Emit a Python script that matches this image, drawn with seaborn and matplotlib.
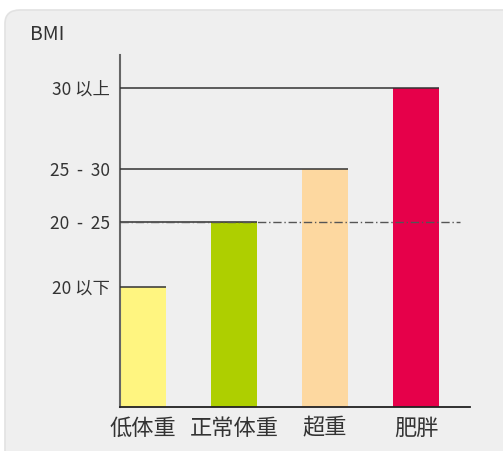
import matplotlib
matplotlib.use("Agg")
import matplotlib.pyplot as plt
from matplotlib.patches import FancyBboxPatch
import pandas as pd
import seaborn as sns

# 数据：类别、柱高（示意高度）、刻度标签
categories = ["低体重", "正常体重", "超重", "肥胖"]
heights = [1.20, 1.85, 2.38, 3.19]
tick_labels = ["20 以下", "20 - 25", "25 - 30", "30 以上"]
colors = ["#FFF580", "#AECF00", "#FDD8A0", "#E6004A"]

sns.set_style("white")
plt.rcParams["font.family"] = ["Noto Sans CJK SC", "DejaVu Sans"]

df = pd.DataFrame({"cat": categories, "h": heights})

fig = plt.figure(figsize=(5.03, 4.51), dpi=100)
fig.patch.set_facecolor("white")

# 圆角灰色背景
bg = FancyBboxPatch((5 / 503, -0.1), 1.2, 1.1 - 10 / 451,
                    boxstyle="round,pad=0,rounding_size=0.03",
                    transform=fig.transFigure, facecolor="#EFEFEF",
                    edgecolor="#E2E2E2", linewidth=1.2, zorder=-10)
fig.patches.append(bg)

ax = fig.add_axes([120 / 503, 44 / 451, 350 / 503, 352 / 451])
ax.set_facecolor("none")

sns.barplot(data=df, x="cat", y="h", hue="cat", palette=colors,
            width=0.505, saturation=1, legend=False, linewidth=0,
            ax=ax, zorder=2)

# 每根柱子顶部画一条到纵轴的横线
for bar, h in zip(ax.patches, heights):
    right = bar.get_x() + bar.get_width()
    ax.hlines(h, -0.253, right, color="#333333", linewidth=1.1, zorder=3)

# 正常体重上限的点划线
ax.hlines(heights[1], -0.253, 3.48, color="#555555", linewidth=1.0,
          linestyles=(0, (6, 2, 1, 2)), zorder=4)

ax.set_xlim(-0.253, 3.593)
ax.set_ylim(0, 3.52)
ax.set_yticks(heights)
ax.set_yticklabels([t.replace(" - ", "  -  ") for t in tick_labels],
                   fontsize=12.5, color="#333333")
ax.tick_params(axis="y", length=0, pad=7)
ax.tick_params(axis="x", length=0, pad=7, labelsize=16, labelcolor="#333333")
ax.set_xlabel("")
ax.set_ylabel("")

for s in ["top", "right"]:
    ax.spines[s].set_visible(False)
ax.spines["left"].set_color("#666666")
ax.spines["left"].set_linewidth(1.5)
ax.spines["bottom"].set_color("#222222")
ax.spines["bottom"].set_linewidth(1.3)

fig.text(30 / 503, 1 - 34 / 451, "BMI", fontsize=14, color="#333333",
         va="center", ha="left")

fig.savefig("out.png", dpi=100)
